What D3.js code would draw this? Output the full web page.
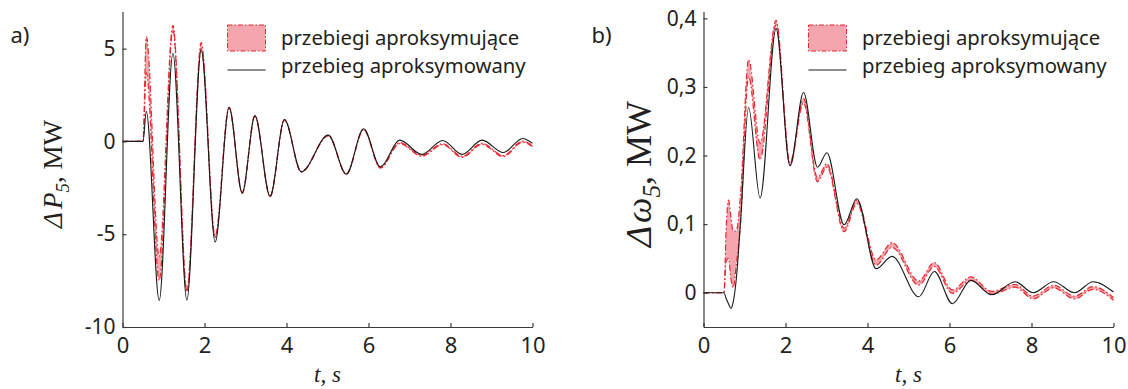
<!DOCTYPE html>
<meta charset="utf-8">
<style>
body { margin: 0; background: #fff; }
text { fill: #231f20; }
.tick text { font-family: "Noto Sans", sans-serif; }
</style>
<svg id="chart" width="1128" height="389"></svg>
<script src="https://d3js.org/d3.v7.min.js"></script>
<script>

// a) ΔP5 [MW]
var tP = [0, 0.5, 0.58, 0.895, 1.23, 1.57, 1.92, 2.26, 2.60, 2.92, 3.23, 3.60, 3.95, 4.36, 5.02, 5.46, 5.88, 6.29, 6.76, 7.30, 7.81, 8.28, 8.77, 9.29, 9.76, 10];
var pBlack = [0, 0, 1.62, -8.57, 4.74, -8.54, 4.92, -5.42, 1.84, -2.78, 1.39, -2.96, 1.18, -1.64, 0.34, -1.76, 0.68, -1.37, 0.07, -0.70, 0.05, -0.70, 0.07, -0.60, 0.16, -0.10];
var pUpper = [0, 0, 5.65, -6.2, 6.26, -8.0, 5.33, -5.1, 1.84, -2.75, 1.39, -2.93, 1.18, -1.62, 0.34, -1.75, 0.66, -1.40, -0.06, -0.74, -0.12, -0.80, -0.10, -0.76, 0.02, -0.22];
var pLower = [0, 0, 3.7, -7.5, 6.0, -8.1, 5.0, -5.2, 1.80, -2.80, 1.35, -2.98, 1.15, -1.66, 0.30, -1.78, 0.62, -1.44, -0.12, -0.80, -0.18, -0.86, -0.16, -0.82, -0.04, -0.28];

// b) Δω5
var tW = [0, 0.5, 0.55, 0.61, 0.67, 0.72, 0.80, 0.90, 1.10, 1.38, 1.77, 2.11, 2.44, 2.78, 3.01, 3.43, 3.74, 4.21, 4.60, 5.25, 5.63, 6.07, 6.52, 7.03, 7.60, 8.04, 8.54, 9.05, 9.50, 10];
var wBlack = [0, 0, -0.008, -0.016, -0.023, -0.015, 0.02, 0.10, 0.27, 0.138, 0.385, 0.185, 0.292, 0.183, 0.204, 0.099, 0.137, 0.035, 0.053, -0.006, 0.031, -0.016, 0.018, -0.003, 0.016, 0.0, 0.016, 0.0, 0.016, 0.001];
var wUpper = [0, 0, 0.09, 0.135, 0.11, 0.09, 0.09, 0.14, 0.34, 0.218, 0.397, 0.19, 0.283, 0.168, 0.188, 0.094, 0.135, 0.048, 0.073, 0.017, 0.044, 0.004, 0.023, 0.002, 0.012, -0.005, 0.011, -0.005, 0.009, -0.007];
var wLower = [0, 0, 0.045, 0.05, 0.02, 0.007, 0.04, 0.10, 0.315, 0.194, 0.39, 0.186, 0.277, 0.162, 0.183, 0.089, 0.130, 0.040, 0.066, 0.011, 0.038, -0.001, 0.018, -0.002, 0.008, -0.009, 0.007, -0.009, 0.005, -0.011];

var xTicks = [0, 2, 4, 6, 8, 10];
var pTicks = [-10, -5, 0, 5];
var wTicks = [0, 0.1, 0.2, 0.3, 0.4];
var legendLabels = ["przebiegi aproksymujące", "przebieg aproksymowany"];

var svg = d3.select("#chart");
var pink = "#f5a5ad", red = "#e8282f", dashDot = "6,2.5,1.5,2.5";

function panel(opt) {
  var x = d3.scaleLinear().domain([0, 10]).range([opt.left, opt.left + 410]);
  var y = d3.scaleLinear().domain(opt.ydomain).range([327, 11.5]);
  var g = svg.append("g");

  var band = opt.t.map(function(t, i) { return {t: t, hi: opt.upper[i], lo: opt.lower[i], b: opt.black[i]}; });

  g.append("path")
    .datum(band)
    .attr("fill", pink)
    .attr("d", d3.area().curve(d3.curveMonotoneX)
      .x(function(d) { return x(d.t); })
      .y0(function(d) { return y(d.lo); })
      .y1(function(d) { return y(d.hi); }));

  ["hi", "lo"].forEach(function(k) {
    g.append("path")
      .datum(band)
      .attr("fill", "none")
      .attr("stroke", red)
      .attr("stroke-width", 1.2)
      .attr("stroke-dasharray", dashDot)
      .attr("d", d3.line().curve(d3.curveMonotoneX)
        .x(function(d) { return x(d.t); })
        .y(function(d) { return y(d[k]); }));
  });

  g.append("path")
    .datum(band)
    .attr("fill", "none")
    .attr("stroke", "#1a1a1a")
    .attr("stroke-width", 1.1)
    .attr("d", d3.line().curve(d3.curveMonotoneX)
      .x(function(d) { return x(d.t); })
      .y(function(d) { return y(d.b); }));

  var ax = g.append("g")
    .attr("transform", "translate(0,327)")
    .call(d3.axisBottom(x).tickValues(xTicks).tickSizeInner(-4).tickSizeOuter(0).tickPadding(10)
      .tickFormat(function(d) { return String(d); }));
  ax.selectAll("text").attr("font-size", 22).attr("fill", "#231f20");

  var ay = g.append("g")
    .attr("transform", "translate(" + opt.left + ",0)")
    .call(d3.axisLeft(y).tickValues(opt.yticks).tickSizeInner(-4).tickSizeOuter(0).tickPadding(7)
      .tickFormat(opt.fmt));
  ay.selectAll("text").attr("font-size", 21).attr("fill", "#231f20");

  g.selectAll(".domain, .tick line").attr("stroke", "#3a3a3a").attr("stroke-width", 1.2);

  // panel letter
  g.append("text")
    .attr("x", opt.left - 112)
    .attr("y", 43)
    .attr("font-family", "Noto Sans, sans-serif")
    .attr("font-size", 22)
    .text(opt.letter);

  // x label
  g.append("text")
    .attr("x", opt.left + 205)
    .attr("y", 382)
    .attr("text-anchor", "middle")
    .attr("font-family", "Liberation Serif, serif")
    .attr("font-style", "italic")
    .attr("font-size", 23)
    .text("t, s");

  // y label
  var yl = g.append("text")
    .attr("transform", "translate(" + opt.ylabX + ",174) rotate(-90)")
    .attr("text-anchor", "middle")
    .attr("font-family", "Liberation Serif, serif")
    .attr("font-size", opt.ylabSize);
  yl.append("tspan").attr("font-style", "italic").text("Δ");
  yl.append("tspan").attr("font-style", "italic").attr("dx", 3).text(opt.sym);
  yl.append("tspan").attr("font-style", "italic").attr("font-size", opt.ylabSize * 0.7).attr("dy", opt.ylabSize * 0.25).text("5");
  yl.append("tspan").attr("dy", -opt.ylabSize * 0.25).text(", MW");

  // legend
  var lg = g.append("g")
    .attr("font-family", "Noto Sans, sans-serif")
    .attr("font-size", 20.3);
  lg.append("rect")
    .attr("x", opt.left + 105).attr("y", 25).attr("width", 38).attr("height", 26)
    .attr("fill", pink).attr("stroke", red).attr("stroke-width", 1)
    .attr("stroke-dasharray", "5,2,1.5,2");
  lg.append("line")
    .attr("x1", opt.left + 105).attr("x2", opt.left + 143)
    .attr("y1", 70).attr("y2", 70)
    .attr("stroke", "#1a1a1a").attr("stroke-width", 1.1);
  lg.selectAll("text.lab")
    .data(legendLabels)
    .enter().append("text")
      .attr("class", "lab")
      .attr("x", opt.left + 158.5)
      .attr("y", function(d, i) { return 45 + i * 28; })
      .text(function(d) { return d; });
}

panel({left: 122.5, ydomain: [-10, 7], t: tP, black: pBlack, upper: pUpper, lower: pLower,
  yticks: pTicks, fmt: function(d) { return String(d); }, letter: "a)", sym: "P", ylabX: 62, ylabSize: 27});

panel({left: 703.5, ydomain: [-0.05, 0.41], t: tW, black: wBlack, upper: wUpper, lower: wLower,
  yticks: wTicks, fmt: function(d) { return d === 0 ? "0" : d.toFixed(1).replace(".", ","); },
  letter: "b)", sym: "ω", ylabX: 651, ylabSize: 36});

</script>
